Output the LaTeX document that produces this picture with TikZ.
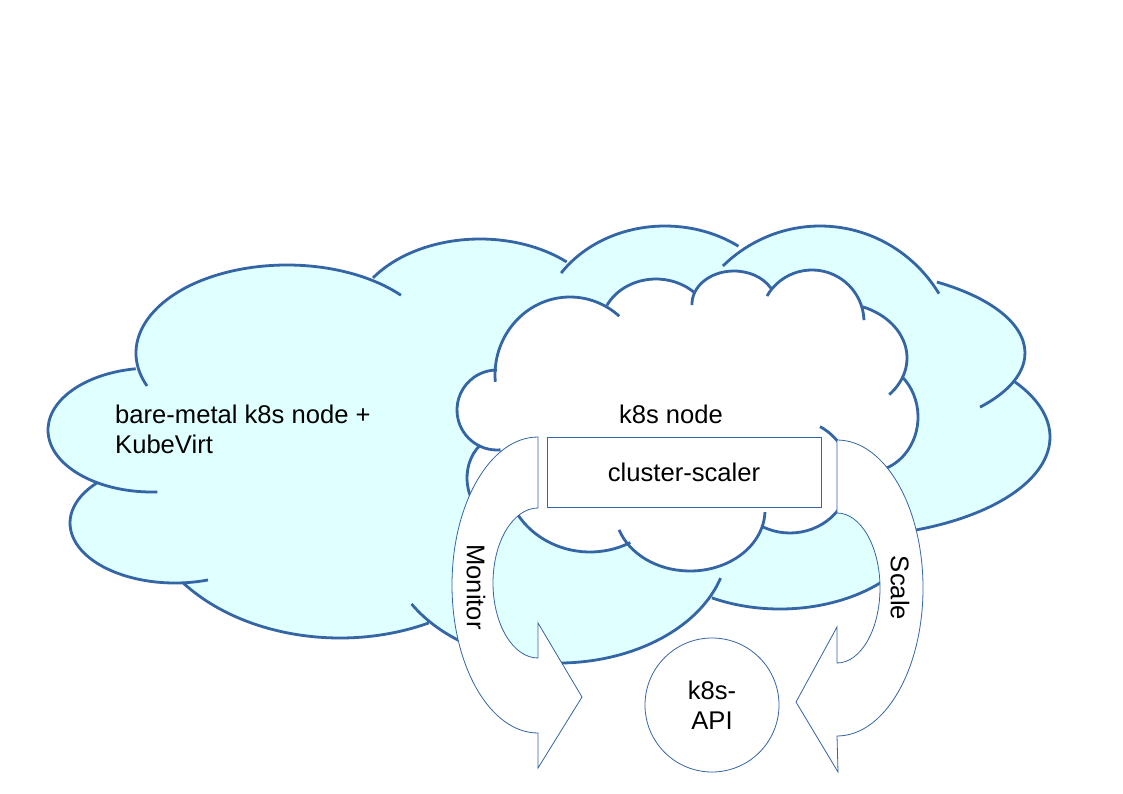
\documentclass[tikz,border=0pt]{standalone}
\usepackage{fontspec}
\setmainfont{Liberation Sans}
\definecolor{cloudblue}{HTML}{3465A4}
\definecolor{cloudcyan}{HTML}{E0FFFF}
% one bump of a cloud: centre x, centre y, x radius, y radius, start angle, end angle
\newcommand\arcseg[6]{([shift={(#1,#2)}]#5:#3 and #4) arc[start angle=#5,end angle=#6,x radius=#3,y radius=#4]}
\newcommand\bigcloud[1]{%
\arcseg{287}{353}{151}{88}{158}{319}#1
\arcseg{480}{329}{130}{90}{214.6}{311.8}#1
\arcseg{665}{332}{125}{106}{213.8}{306}#1
\arcseg{820}{369}{140}{143}{226.1}{328.2}#1
\arcseg{829}{353}{196}{85}{-56.6}{39.6}#1
\arcseg{838}{437}{212}{100}{-33.4}{75}#1
\arcseg{780}{507}{150}{102}{37}{117}#1
\arcseg{558}{543}{170}{120}{17}{149.5}#1
\arcseg{340}{493}{200}{145}{63.7}{141.7}#1
\arcseg{175}{523}{105}{60}{71.7}{221.9}#1
\arcseg{152}{430}{104}{62}{87}{261}}
\newcommand\nodecloud[1]{%
\arcseg{497}{410}{40}{40}{85}{270}#1
\arcseg{570}{375}{75}{78}{175}{311}#1
\arcseg{656}{327}{55}{48}{207.2}{315.1}#1
\arcseg{734}{304}{42}{33}{178}{331}#1
\arcseg{812}{322}{52}{52}{210}{358}#1
\arcseg{837}{358}{70}{55}{-68.2}{41.7}#1
\arcseg{868}{417}{50}{55}{-47}{110}#1
\arcseg{790}{476}{60}{57}{-60}{117.6}#1
\arcseg{690}{510}{75}{61}{2}{161}#1
\arcseg{590}{473}{85}{79}{61.7}{160}#1
\arcseg{500}{478}{33}{41}{140}{233}}
\begin{document}
\begin{tikzpicture}[x=1pt,y=-1pt,
  cloudline/.style={draw=cloudblue,line width=2.8pt},
  thinline/.style={draw=cloudblue,line width=0.8pt,fill=white},
  label/.style={font=\fontsize{25.6}{30}\selectfont,inner sep=0pt,text=black}]
\useasboundingbox[fill=white] (0,0) rectangle (1123,794);
% bare-metal cloud
\fill[cloudcyan] \bigcloud{--} -- cycle;
\draw[cloudline] \bigcloud{};
% k8s node cloud
\fill[white] \nodecloud{--} -- cycle;
\draw[cloudline] \nodecloud{};
% texts in clouds
\node[label,anchor=north west,align=left] (bm) at (115,404.5) {bare-metal k8s node +\\KubeVirt};
\node[label,anchor=base] (k8snode) at (671,423) {k8s node};
\node[label,thinline,minimum width=274pt,minimum height=70pt] (scaler) at (684,472) {cluster-scaler};
% Monitor arrow
\draw[thinline] (538,437) arc[start angle=270,end angle=90,x radius=86,y radius=148]
  -- (538,768) -- (582,697) -- (538,623) -- (538,658)
  arc[start angle=90,end angle=270,x radius=45,y radius=75] -- cycle;
% Scale arrow
\draw[thinline] (837,440) arc[start angle=-90,end angle=90,x radius=86,y radius=148]
  -- (838,772) -- (796,702) -- (837,627) -- (837,663)
  arc[start angle=90,end angle=-90,x radius=43,y radius=75] -- cycle;
\node[label,rotate=-90] (monitor) at (476,587) {Monitor};
\node[label,rotate=-90] (scale) at (900,588) {Scale};
% k8s API
\node[label,thinline,circle,minimum size=134pt,align=center] (api) at (712,705) {k8s-\\API};
\end{tikzpicture}
\end{document}
